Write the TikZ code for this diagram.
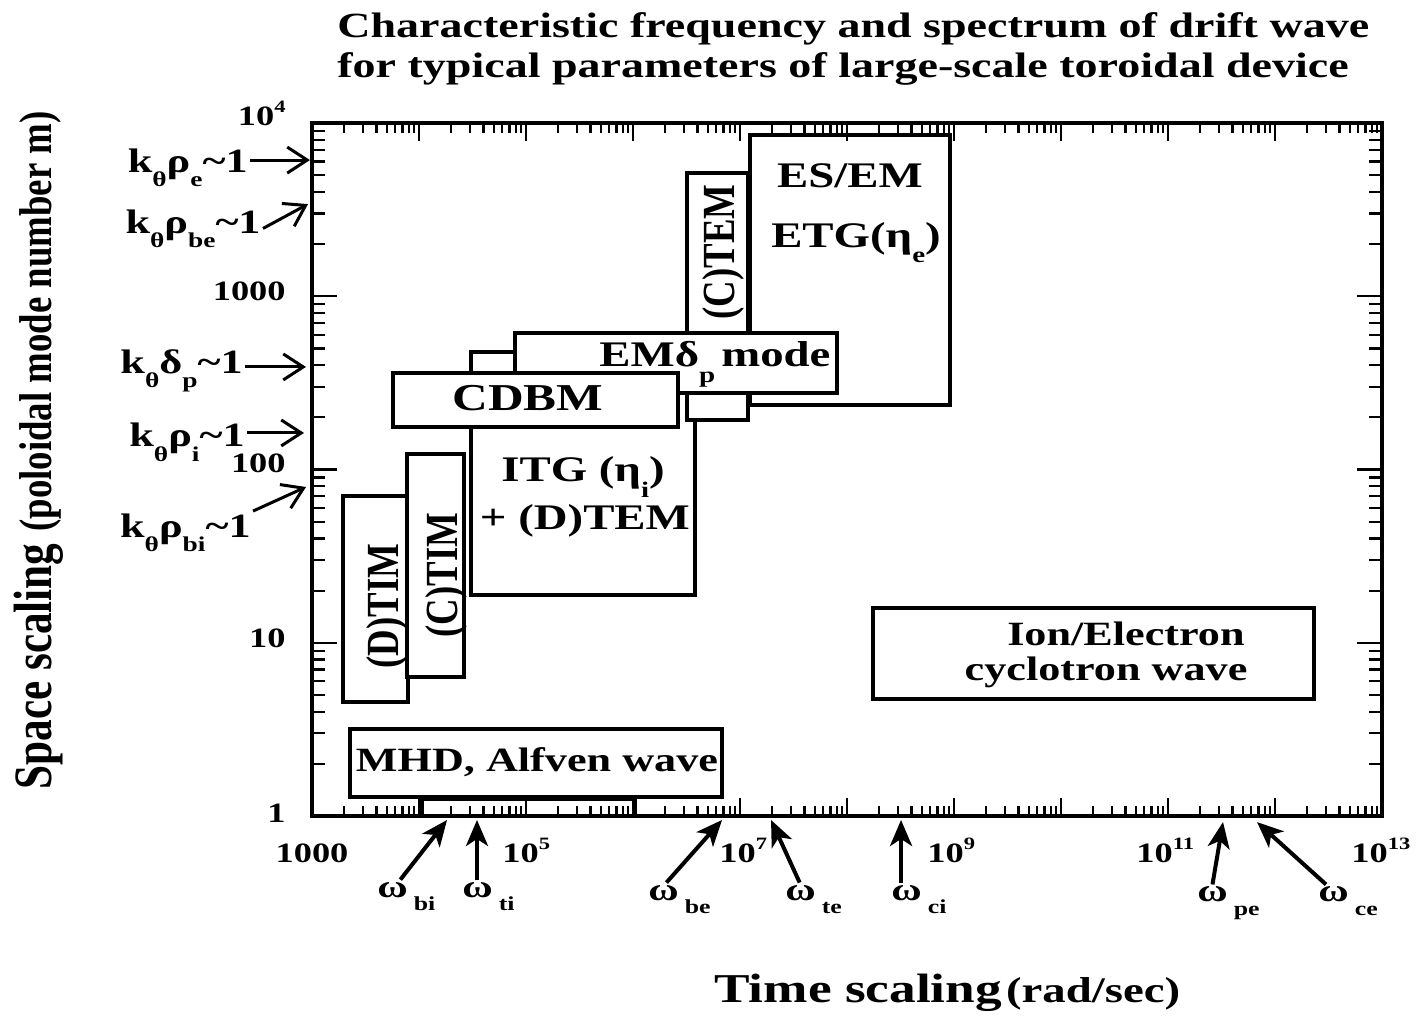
\documentclass[tikz,border=0pt]{standalone}
\usepackage{fontspec}
\setmainfont{Liberation Serif}
\newfontfamily\hf[FakeStretch=1.3]{Liberation Serif}
\newfontfamily\vf[FakeStretch=0.8]{Liberation Serif}
\usetikzlibrary{arrows.meta}
\newcommand{\lo}[1]{\raisebox{-0.42em}{\scalebox{0.62}{#1}}}
\newcommand{\up}[1]{\raisebox{0.45em}{\scalebox{0.62}{#1}}}
\tikzset{driftplot/.style={x=53.5pt,y=86.625pt,line join=miter},
  modebox/.style={draw,fill=white,line width=1.7pt},
  tickline/.style={line width=1.1pt},
  hlab/.style={font=\hf\bfseries\fontsize{#1}{#1}\selectfont,inner sep=1pt},
  vlab/.style={font=\vf\bfseries\fontsize{#1}{#1}\selectfont,inner sep=1pt,rotate=90},
  karrow/.style={line width=1.5pt,-{Straight Barb[length=10pt,width=13pt]}},
  warrow/.style={line width=2pt,-{Stealth[length=13pt,width=11pt,inset=3.5pt]}}}

\begin{document}
\begin{tikzpicture}[driftplot]
    \useasboundingbox (0.0841,-1.1717) rectangle (13.3551,4.7100);
    \node[hlab=17.7,anchor=base west] (title1) at (3.215,4.496)
      {Characteristic frequency and spectrum of drift wave};
    \node[hlab=17.7,anchor=base west] (title2) at (3.215,4.260)
      {for typical parameters of large-scale toroidal device};
    % mode regions, back to front
    \foreach \xa/\ya/\xb/\yb in {7.093/2.372/8.963/3.931, 4.486/1.276/6.579/2.678,
        6.505/2.286/7.075/3.711, 4.897/2.442/7.907/2.788, 3.757/2.245/6.421/2.557,
        3.290/0.658/3.897/1.847, 3.888/0.802/4.421/2.089, 4.028/0/6.019/0.098,
        3.355/0.110/6.832/0.502, 8.243/0.675/12.364/1.201}
      \draw[modebox] (\xa,\ya) rectangle (\xb,\yb);
    % frame and log ticks
    \draw[line width=2pt] (3,0) rectangle (13,4);
    \foreach \d in {3,...,12} {
      \draw[tickline] (\d,0) -- ++(0,0.104) (\d,4) -- ++(0,-0.104);
      \foreach \m in {2,...,9}
        \draw[tickline] ({\d+log10(\m)},0) -- ++(0,0.055) ({\d+log10(\m)},4) -- ++(0,-0.055);
    }
    \foreach \d in {0,...,3} {
      \draw[tickline] (3,\d) -- ++(0.234,0) (13,\d) -- ++(-0.234,0);
      \foreach \m in {2,...,9}
        \draw[tickline] (3,{\d+log10(\m)}) -- ++(0.12,0) (13,{\d+log10(\m)}) -- ++(-0.12,0);
    }
    % tick labels
    \node[hlab=14,anchor=base] (x3) at (3,-0.266) {1000};
    \node[hlab=14,anchor=base west] (x5) at (4.757,-0.266) {10\up{5}};
    \node[hlab=14,anchor=base west] (x7) at (6.785,-0.266) {10\up{7}};
    \node[hlab=14,anchor=base west] (x9) at (8.729,-0.266) {10\up{9}};
    \node[hlab=14,anchor=base west] (x11) at (10.682,-0.266) {10\up{11}};
    \node[hlab=14,anchor=base west] (x13) at (12.692,-0.266) {10\up{13}};
    \node[hlab=14,anchor=base east] (y4) at (2.776,3.988) {10\up{4}};
    \node[hlab=14,anchor=base east] (y3) at (2.776,2.978) {1000};
    \node[hlab=14,anchor=base east] (y2) at (2.776,1.980) {100};
    \node[hlab=14,anchor=base east] (y1) at (2.776,0.970) {10};
    \node[hlab=14,anchor=base east] (y0) at (2.776,-0.035) {1};
    % region names
    \node[hlab=18,anchor=base] (esem) at (8.028,3.625) {ES/EM};
    \node[hlab=18,anchor=base] (etg) at (8.084,3.284) {ETG(η\lo{e})};
    \node[vlab=23,anchor=base] (ctem) at (6.944,3.256) {(C)TEM};
    \node[hlab=18,anchor=base] (emdp) at (6.766,2.592) {EMδ\lo{p}\,mode};
    \node[hlab=19,anchor=base] (cdbm) at (5.019,2.338) {CDBM};
    \node[hlab=18,anchor=base] (itg) at (5.533,1.928) {ITG (η\lo{i})};
    \node[hlab=18,anchor=base] (dtem) at (5.551,1.651) {+ (D)TEM};
    \node[vlab=23,anchor=base] (dtim) at (3.804,1.212) {(D)TIM};
    \node[vlab=23,anchor=base] (ctim) at (4.364,1.391) {(C)TIM};
    \node[hlab=17,anchor=base] (mhd) at (5.103,0.254) {MHD, Alfven wave};
    \node[hlab=17,anchor=base] (ion) at (10.607,0.987) {Ion/Electron};
    \node[hlab=17,anchor=base] (cyc) at (10.421,0.785) {cyclotron wave};
    % wavenumber marks
    \node[hlab=17,anchor=base east] (kre) at (2.421,3.717) {k\lo{θ}ρ\lo{e}\textasciitilde 1};
    \node[hlab=17,anchor=base east] (krbe) at (2.542,3.365) {k\lo{θ}ρ\lo{be}\textasciitilde 1};
    \node[hlab=17,anchor=base east] (kdp) at (2.374,2.557) {k\lo{θ}δ\lo{p}\textasciitilde 1};
    \node[hlab=17,anchor=base east] (kri) at (2.393,2.130) {k\lo{θ}ρ\lo{i}\textasciitilde 1};
    \node[hlab=17,anchor=base east] (krbi) at (2.449,1.610) {k\lo{θ}ρ\lo{bi}\textasciitilde 1};
    \coordinate (kre-h) at (2.981,3.786);
    \coordinate (krbe-h) at (2.963,3.532);
    \coordinate (kdp-h) at (2.944,2.592);
    \coordinate (kri-h) at (2.925,2.211);
    \coordinate (krbi-h) at (2.944,1.899);
    \draw[karrow] (kre-h -| kre.east) -- (kre-h);
    \draw[karrow] (krbe.east) -- (krbe-h);
    \draw[karrow] (kdp-h -| kdp.east) -- (kdp-h);
    \draw[karrow] (kri-h -| kri.east) -- (kri-h);
    \draw[karrow] (krbi.north east) -- (krbi-h);
    % characteristic frequencies
    \node[hlab=16,anchor=base west] (wbi) at (3.589,-0.468) {ω\hspace{3pt}\lo{bi}};
    \node[hlab=16,anchor=base west] (wti) at (4.383,-0.468) {ω\hspace{3pt}\lo{ti}};
    \node[hlab=16,anchor=base west] (wbe) at (6.121,-0.485) {ω\hspace{3pt}\lo{be}};
    \node[hlab=16,anchor=base west] (wte) at (7.402,-0.485) {ω\hspace{3pt}\lo{te}};
    \node[hlab=16,anchor=base west] (wci) at (8.393,-0.485) {ω\hspace{3pt}\lo{ci}};
    \node[hlab=16,anchor=base west] (wpe) at (11.252,-0.496) {ω\hspace{3pt}\lo{pe}};
    \node[hlab=16,anchor=base west] (wce) at (12.383,-0.496) {ω\hspace{3pt}\lo{ce}};
    \coordinate (wbi-h) at (4.262,-0.023);
    \coordinate (wti-h) at (4.542,-0.023);
    \coordinate (wbe-h) at (6.832,-0.023);
    \coordinate (wte-h) at (7.290,-0.023);
    \coordinate (wci-h) at (8.505,-0.023);
    \coordinate (wpe-h) at (11.514,-0.035);
    \coordinate (wce-h) at (11.832,-0.035);
    \draw[warrow] ([xshift=-3pt]wbi.north) -- (wbi-h);
    \draw[warrow] (wti.north -| wti-h) -- (wti-h);
    \draw[warrow] ([xshift=-6.5pt]wbe.north) -- (wbe-h);
    \draw[warrow] ([xshift=-7pt]wte.north) -- (wte-h);
    \draw[warrow] (wci.north -| wci-h) -- (wci-h);
    \draw[warrow] ([xshift=-8pt]wpe.north) -- (wpe-h);
    \draw[warrow] ([xshift=-11pt]wce.north) -- (wce-h);
    % axis titles
    \node[hlab=20.5,anchor=base west] (xlab) at (6.738,-1.079)
      {Time scaling\hspace{2pt}{\fontsize{18}{18}\selectfont(rad/sec)}};
    \node[vlab=27,anchor=base west] (ylab) at (0.570,0.139)
      {Space scaling\hspace{6pt}{\fontsize{23}{23}\selectfont(poloidal mode number m)}};
\end{tikzpicture}
\end{document}
